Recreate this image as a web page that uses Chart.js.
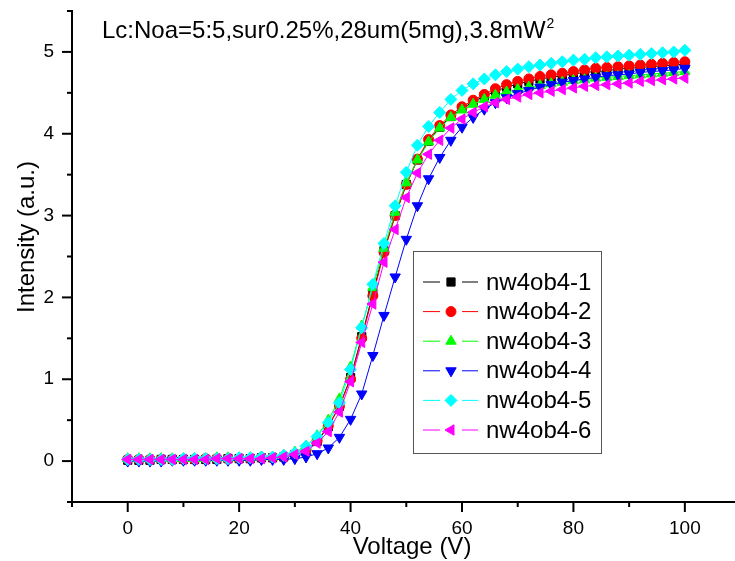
<!DOCTYPE html>
<html>
<head>
<meta charset="utf-8">
<script src="https://cdn.jsdelivr.net/npm/chart.js@4.4.0/dist/chart.umd.min.js"></script>
<style>
  body { margin: 0; background: #fff; }
  #wrap { width: 735px; height: 561px; }
</style>
</head>
<body>
<div id="wrap"><canvas id="chart" width="735" height="561"></canvas></div>
<script>
// voltage steps (V)
const voltage = [0, 2, 4, 6, 8, 10, 12, 14, 16, 18, 20, 22, 24, 26, 28, 30, 32, 34, 36, 38, 40,
    42, 44, 46, 48, 50, 52, 54, 56, 58, 60, 62, 64, 66, 68, 70, 72, 74, 76, 78, 80,
    82, 84, 86, 88, 90, 92, 94, 96, 98, 100];

const nw4ob4_1 = [0.01, 0.01, 0.01, 0.02, 0.02, 0.02, 0.02, 0.02, 0.02, 0.03, 0.03, 0.03, 0.04, 0.04,
    0.05, 0.08, 0.13, 0.24, 0.42, 0.67, 1.02, 1.52, 2.05, 2.57, 3.0, 3.38, 3.68, 3.91, 4.08, 4.21,
    4.31, 4.39, 4.46, 4.52, 4.57, 4.61, 4.64, 4.67, 4.69, 4.71, 4.73, 4.75, 4.76, 4.77, 4.79, 4.8,
    4.81, 4.82, 4.83, 4.84, 4.85];
const nw4ob4_2 = [0.02, 0.02, 0.02, 0.02, 0.02, 0.02, 0.02, 0.03, 0.03, 0.03, 0.03, 0.03, 0.04, 0.04,
    0.05, 0.08, 0.14, 0.25, 0.43, 0.67, 1.0, 1.5, 2.02, 2.55, 3.0, 3.38, 3.69, 3.93, 4.1, 4.23,
    4.33, 4.41, 4.48, 4.55, 4.6, 4.64, 4.67, 4.7, 4.72, 4.74, 4.76, 4.78, 4.8, 4.81, 4.82, 4.83,
    4.84, 4.85, 4.86, 4.87, 4.88];
const nw4ob4_3 = [0.03, 0.03, 0.03, 0.03, 0.03, 0.03, 0.03, 0.03, 0.04, 0.04, 0.04, 0.04, 0.05, 0.05,
    0.07, 0.11, 0.18, 0.31, 0.5, 0.76, 1.15, 1.65, 2.12, 2.6, 3.04, 3.4, 3.68, 3.9, 4.07, 4.2,
    4.29, 4.36, 4.42, 4.47, 4.51, 4.54, 4.57, 4.59, 4.61, 4.63, 4.65, 4.66, 4.68, 4.69, 4.7, 4.71,
    4.72, 4.73, 4.74, 4.75, 4.76];
const nw4ob4_4 = [0.0, 0.0, 0.0, 0.0, 0.01, 0.01, 0.01, 0.01, 0.01, 0.01, 0.01, 0.01, 0.02, 0.02,
    0.02, 0.03, 0.05, 0.09, 0.16, 0.29, 0.51, 0.82, 1.29, 1.78, 2.25, 2.71, 3.12, 3.45, 3.71, 3.92,
    4.08, 4.2, 4.3, 4.38, 4.44, 4.49, 4.53, 4.57, 4.6, 4.63, 4.65, 4.67, 4.69, 4.71, 4.72, 4.73,
    4.75, 4.76, 4.77, 4.78, 4.8];
const nw4ob4_5 = [0.02, 0.02, 0.02, 0.02, 0.02, 0.03, 0.03, 0.03, 0.03, 0.03, 0.04, 0.04, 0.05, 0.05,
    0.07, 0.1, 0.18, 0.3, 0.47, 0.71, 1.12, 1.63, 2.16, 2.66, 3.12, 3.53, 3.86, 4.09, 4.26, 4.42,
    4.53, 4.61, 4.67, 4.72, 4.76, 4.79, 4.82, 4.84, 4.86, 4.88, 4.9, 4.91, 4.93, 4.94, 4.95, 4.96,
    4.97, 4.98, 4.99, 5.0, 5.02];
const nw4ob4_6 = [0.02, 0.02, 0.02, 0.02, 0.02, 0.02, 0.02, 0.02, 0.03, 0.03, 0.03, 0.03, 0.03, 0.04,
    0.05, 0.08, 0.12, 0.22, 0.36, 0.6, 0.97, 1.45, 1.92, 2.43, 2.83, 3.22, 3.52, 3.75, 3.92, 4.07,
    4.18, 4.26, 4.33, 4.38, 4.42, 4.45, 4.48, 4.5, 4.52, 4.54, 4.56, 4.58, 4.59, 4.6, 4.61, 4.62,
    4.64, 4.65, 4.66, 4.67, 4.68];

const seriesNames = ["nw4ob4-1", "nw4ob4-2", "nw4ob4-3", "nw4ob4-4", "nw4ob4-5", "nw4ob4-6"];
const xTicks = [0, 20, 40, 60, 80, 100];
const yTicks = [0, 1, 2, 3, 4, 5];
const xMinorTicks = [-10, 10, 30, 50, 70, 90];
const yMinorTicks = [-0.5, 0.5, 1.5, 2.5, 3.5, 4.5, 5.5];

const allSeries = [nw4ob4_1, nw4ob4_2, nw4ob4_3, nw4ob4_4, nw4ob4_5, nw4ob4_6];
const colors = ['#000000', '#ff0000', '#00ff00', '#0000ff', '#00ffff', '#ff00ff'];
const styles = ['rect', 'circle', 'triangle', 'triangle', 'rectRot', 'triangle'];
const rotations = [0, 0, 0, 180, 0, 270];
const radii = [5.8, 5, 6, 6, 6, 6];

const FONT = "'Liberation Sans', Arial, sans-serif";

const datasets = allSeries.map((vals, i) => ({
    label: seriesNames[i],
    data: vals.map((v, j) => ({ x: voltage[j], y: v })),
    borderColor: colors[i],
    backgroundColor: colors[i],
    borderWidth: 1,
    pointStyle: styles[i],
    pointRotation: rotations[i],
    pointRadius: radii[i],
    pointBorderWidth: 1,
    pointBorderColor: colors[i],
    pointBackgroundColor: colors[i],
    order: 5 - i
}));

const extras = {
    id: 'extras',
    afterDraw(chart) {
        const ctx = chart.ctx;
        const xs = chart.scales.x, ys = chart.scales.y;
        const left = chart.chartArea.left, bottom = chart.chartArea.bottom;
        ctx.save();
        ctx.strokeStyle = '#000';
        ctx.lineWidth = 2;
        // tick marks, major and minor
        xTicks.forEach(v => { const p = xs.getPixelForValue(v); ctx.beginPath(); ctx.moveTo(p, bottom); ctx.lineTo(p, bottom + 10); ctx.stroke(); });
        xMinorTicks.forEach(v => { const p = xs.getPixelForValue(v); ctx.beginPath(); ctx.moveTo(p, bottom); ctx.lineTo(p, bottom + 5); ctx.stroke(); });
        yTicks.forEach(v => { const p = ys.getPixelForValue(v); ctx.beginPath(); ctx.moveTo(left, p); ctx.lineTo(left - 10, p); ctx.stroke(); });
        yMinorTicks.forEach(v => { const p = ys.getPixelForValue(v); ctx.beginPath(); ctx.moveTo(left, p); ctx.lineTo(left - 5, p); ctx.stroke(); });

        // axis titles
        ctx.fillStyle = '#000';
        ctx.font = '24px ' + FONT;
        ctx.textAlign = 'center';
        ctx.textBaseline = 'middle';
        ctx.fillText('Voltage (V)', 412, 547);
        ctx.save();
        ctx.translate(27, 237);
        ctx.rotate(-Math.PI / 2);
        ctx.fillText('Intensity (a.u.)', 0, 0);
        ctx.restore();

        // annotation
        ctx.textAlign = 'left';
        ctx.textBaseline = 'alphabetic';
        const t = 'Lc:Noa=5:5,sur0.25%,28um(5mg),3.8mW';
        ctx.fillText(t, 102, 38);
        const w = ctx.measureText(t).width;
        ctx.font = '14px ' + FONT;
        ctx.fillText('2', 102 + w + 1, 28);

        // legend
        ctx.lineWidth = 1;
        ctx.strokeStyle = '#555';
        ctx.strokeRect(413.5, 251.5, 188, 202);
        ctx.font = '24px ' + FONT;
        ctx.textBaseline = 'middle';
        seriesNames.forEach((name, i) => {
            const y = 282 + i * 29.6;
            ctx.strokeStyle = colors[i];
            ctx.beginPath();
            ctx.moveTo(423, y); ctx.lineTo(440, y);
            ctx.moveTo(462, y); ctx.lineTo(478, y);
            ctx.stroke();
            ctx.fillStyle = colors[i];
            Chart.helpers.drawPoint(ctx, { pointStyle: styles[i], rotation: rotations[i], radius: radii[i], borderWidth: 1 }, 451, y);
            ctx.fillStyle = '#000';
            ctx.fillText(name, 486, y + 1);
        });
        ctx.restore();
    }
};

new Chart(document.getElementById('chart'), {
    type: 'line',
    data: { datasets: datasets },
    options: {
        responsive: false,
        animation: false,
        devicePixelRatio: 1,
        layout: { autoPadding: false, padding: { top: 11, right: 0, left: 0, bottom: 0 } },
        plugins: { legend: { display: false }, tooltip: { enabled: false } },
        scales: {
            x: {
                type: 'linear',
                min: -10,
                max: 109,
                afterBuildTicks: axis => { axis.ticks = xTicks.map(v => ({ value: v })); },
                afterFit: axis => { axis.height = 59; axis.paddingLeft = 0; axis.paddingRight = 0; },
                grid: { display: false, drawTicks: false },
                border: { display: true, color: '#000', width: 2 },
                ticks: { color: '#000', font: { size: 19, family: FONT }, padding: 15, maxRotation: 0 }
            },
            y: {
                type: 'linear',
                min: -0.5,
                max: 5.5,
                afterBuildTicks: axis => { axis.ticks = yTicks.map(v => ({ value: v })); },
                afterFit: axis => { axis.width = 72; axis.paddingTop = 0; axis.paddingBottom = 0; },
                grid: { display: false, drawTicks: false },
                border: { display: true, color: '#000', width: 2 },
                ticks: { color: '#000', font: { size: 19, family: FONT }, padding: 18 }
            }
        }
    },
    plugins: [extras]
});
</script>
</body>
</html>
